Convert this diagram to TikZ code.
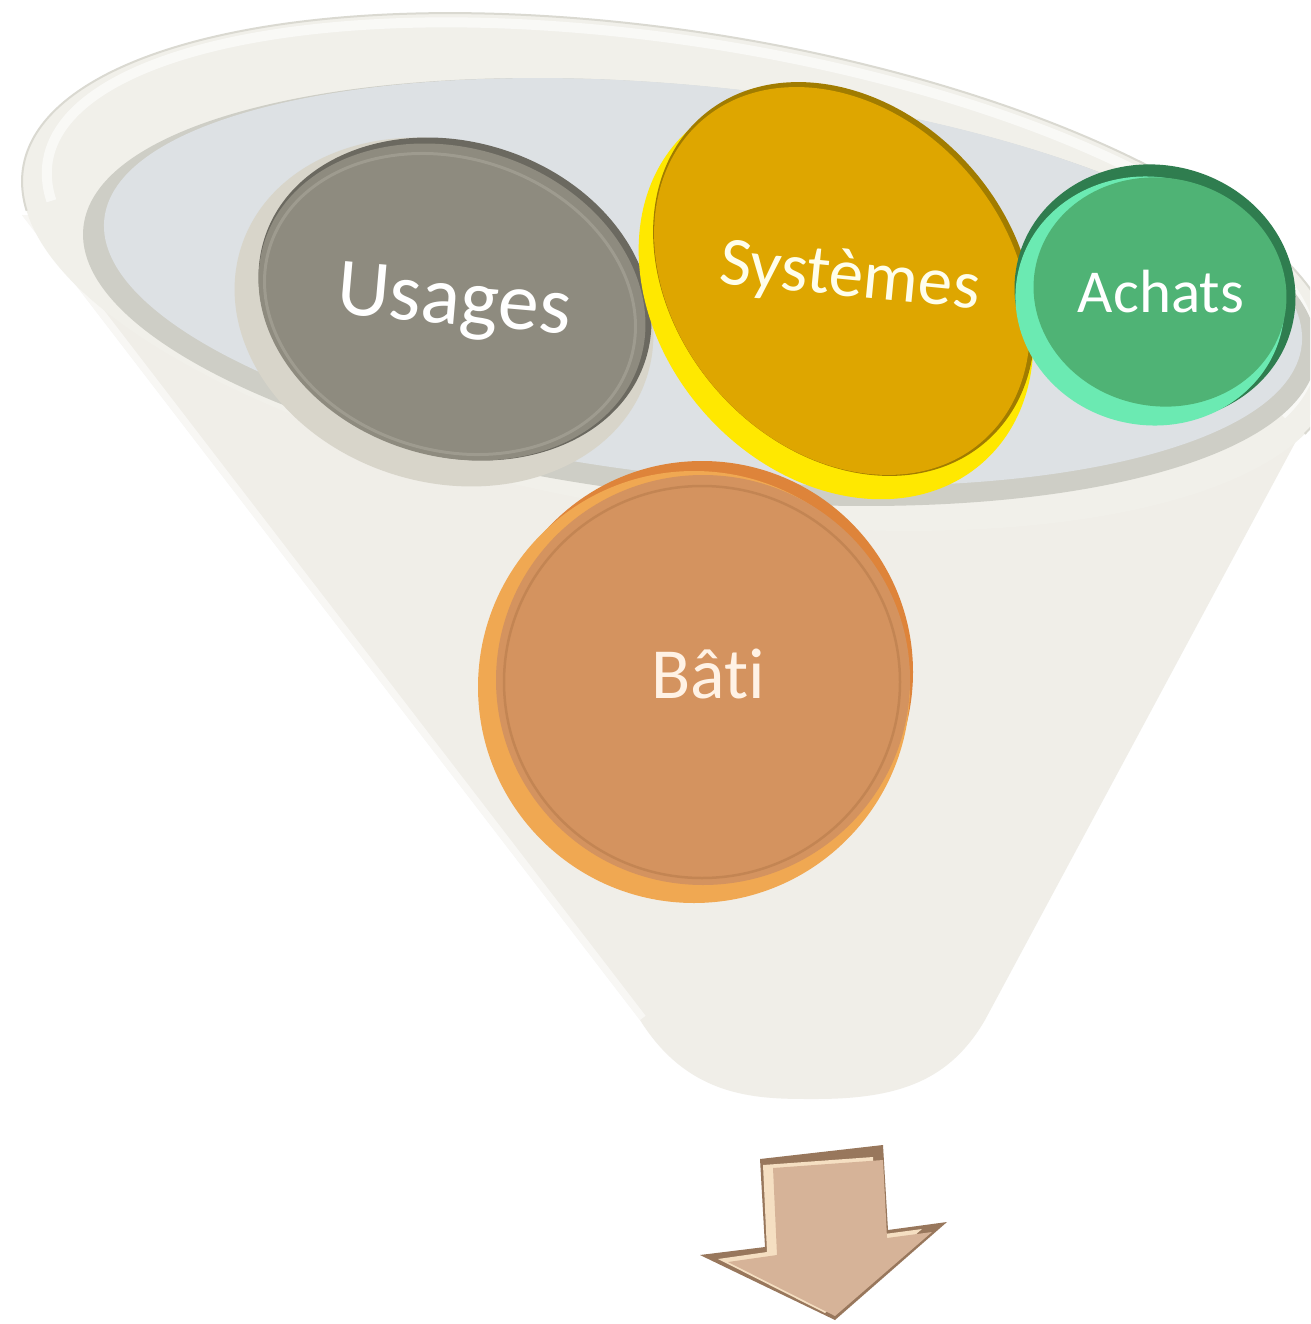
\documentclass[tikz,border=0pt]{standalone}
\usepackage{fontspec}
\setmainfont{Carlito}[Ligatures=CommonOff]
\definecolor{bodyc}{HTML}{F0EEE8}
\definecolor{rimc}{HTML}{F1F0EA}
\definecolor{rimedge}{HTML}{DAD9D1}
\definecolor{lipc}{HTML}{CECEC6}
\definecolor{innerc}{HTML}{DDE1E4}
\definecolor{usrim}{HTML}{D8D5CA}
\definecolor{usdark}{HTML}{6B6960}
\definecolor{usface}{HTML}{8E8B7F}
\definecolor{usring}{HTML}{A5A296}
\definecolor{syrim}{HTML}{FFE800}
\definecolor{sydark}{HTML}{A17C00}
\definecolor{syface}{HTML}{DEA600}
\definecolor{acdark}{HTML}{2F7D4F}
\definecolor{acmint}{HTML}{6BEAB2}
\definecolor{acface}{HTML}{4FB375}
\definecolor{batop}{HTML}{DE843A}
\definecolor{barim}{HTML}{F0A852}
\definecolor{baface}{HTML}{D4935F}
\definecolor{baring}{HTML}{B87C4C}
\definecolor{ardark}{HTML}{98775C}
\definecolor{arlight}{HTML}{F5DFC2}
\definecolor{arface}{HTML}{D6B398}
\newcommand{\ellfill}[6]{\fill[#1, rotate around={#6:(#2,#3)}] (#2,#3) ellipse [x radius=#4, y radius=#5];}
\newcommand{\elldraw}[6]{\draw[#1, rotate around={#6:(#2,#3)}] (#2,#3) ellipse [x radius=#4, y radius=#5];}
\begin{document}
\begin{tikzpicture}[x=1pt,y=-1pt,
  lbl/.style={text=white, inner sep=0pt, anchor=base}]
\useasboundingbox (0,0) rectangle (1310,1324);
\clip (0,0) rectangle (1310,1324);
\fill[white] (0,0) rectangle (1310,1324);
% funnel body
\fill[bodyc] (22,215) -- (640,1020) .. controls (690,1100) and (760,1099) .. (815,1099)
  .. controls (900,1099) and (950,1080) .. (985,1020) -- (1310,415) -- (1310,300) -- cycle;
\begin{scope}
\clip (22,215) -- (640,1020) -- (985,1020) -- (1310,415) -- (1310,300) -- cycle;
\draw[white, line width=14, opacity=.55] (22,215) -- (640,1020);
\end{scope}
% rim and mouth
\ellfill{rimc}{680}{272}{665}{240}{-9}
\draw[rimedge, line width=2, rotate around={-9:(680,272)}] (25.1,313.7) arc[start angle=170, end angle=375, x radius=665, y radius=240];
\draw[white, line width=10, opacity=.6, rotate around={-9:(680,272)}] (48,300) arc[start angle=170, end angle=375, x radius=640, y radius=220];
\ellfill{lipc}{700}{292}{620}{205}{-6}
\ellfill{innerc}{703}{282}{602}{195}{-6}
% Usages
\ellfill{usrim}{444}{312}{213}{170}{-17.7}
\ellfill{usdark}{455}{299}{200}{157}{-17.7}
\ellfill{usface}{452}{302}{197}{154}{-17.7}
\elldraw{usring, line width=3, opacity=.7}{450}{304}{189}{146}{-17.7}
\node[lbl, font=\fontsize{82}{90}\selectfont, rotate=-5] (usages) at (452,324) {Usages};
% Systemes
\ellfill{syrim}{836}{296}{222}{176}{-48.7}
\ellfill{sydark}{844}{279}{216}{169}{-48.7}
\ellfill{syface}{842}{281}{213}{166}{-48.7}
\node[lbl, text=white!92!yellow, font=\fontsize{69}{76}\selectfont, rotate=-5.6] (systemes) at (848,296) {Systèmes};
% Achats
\ellfill{acdark}{1155}{293}{141}{128}{-12}
\ellfill{acmint}{1150}{301}{135}{124}{-12}
\ellfill{acface}{1160}{292}{127}{114}{-12}
\node[lbl, font=\fontsize{61}{68}\selectfont] (achats) at (1161,312) {Achats};
% Bati
\ellfill{batop}{702}{672}{211}{211}{0}
\ellfill{barim}{694}{687}{216}{216}{0}
\ellfill{baface}{703}{680}{207}{205}{0}
\elldraw{baring, line width=2.5, opacity=.6}{702}{682}{198}{196}{0}
\node[lbl, text=white!90!orange, font=\fontsize{72}{80}\selectfont] (bati) at (708,698) {Bâti};
% arrow
\fill[ardark] (760,1159) -- (883,1145) -- (888,1230) -- (947,1222) -- (835,1320) -- (700,1255) -- (765,1247) -- cycle;
\begin{scope}
\clip (760,1159) -- (883,1145) -- (888,1230) -- (947,1222) -- (835,1320) -- (700,1255) -- (765,1247) -- cycle;
\fill[arlight] (763,1165) -- (873,1157) -- (877,1235) -- (922,1229) -- (825,1313) -- (718,1259) -- (767,1252) -- cycle;
\end{scope}
\fill[arface] (773,1168) -- (883,1160) -- (887,1238) -- (932,1232) -- (835,1316) -- (728,1262) -- (777,1255) -- cycle;
\end{tikzpicture}
\end{document}
